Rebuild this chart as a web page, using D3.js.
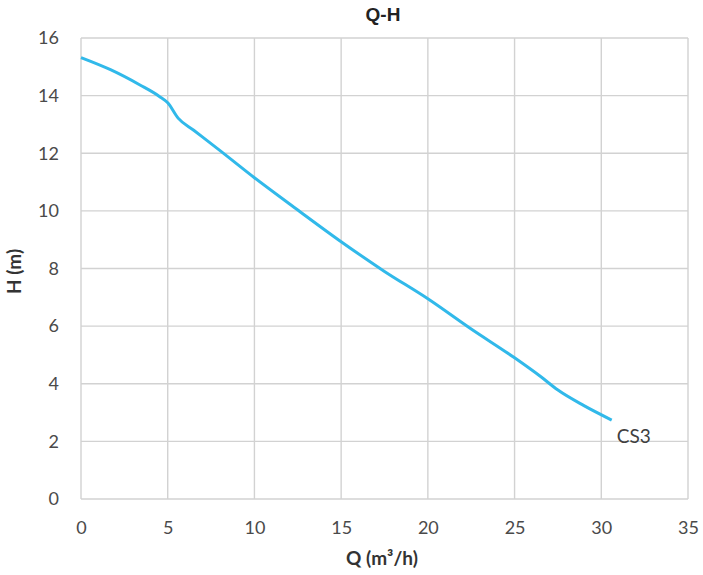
<!DOCTYPE html>
<html>
<head>
<meta charset="utf-8">
<script src="https://cdn.jsdelivr.net/npm/d3@7"></script>
<style>
  body { margin: 0; background: #fff; }
  .grid line { stroke: #d2d2d2; stroke-width: 1.4; }
  .label { font-family: Lato, "Open Sans", sans-serif; font-weight: bold; font-size: 19px; fill: #333; }
</style>
</head>
<body>
<div id="chart"></div>
<script>
// Q-H curve for CS3
var qValues = [0, 1.7, 3.4, 4.5, 5, 5.6, 6.5, 8, 10, 12.5, 15, 17.5, 20, 22.5, 25, 26.5, 27.5, 29, 30.6];
var hValues = [15.32, 14.9, 14.37, 13.98, 13.75, 13.22, 12.8, 12.1, 11.15, 10.03, 8.93, 7.9, 6.95, 5.9, 4.9, 4.25, 3.78, 3.24, 2.74];
var xTicks = [0, 5, 10, 15, 20, 25, 30, 35];
var yTicks = [0, 2, 4, 6, 8, 10, 12, 14, 16];
var seriesName = "CS3";

var W = 703, H = 575;
var margin = {top: 38, right: 15, bottom: 76, left: 81};
var width = W - margin.left - margin.right,
    height = H - margin.top - margin.bottom;

var svg = d3.select("#chart").append("svg")
  .attr("width", W)
  .attr("height", H);

var g = svg.append("g")
  .attr("transform", "translate(" + margin.left + "," + margin.top + ")");

var x = d3.scaleLinear().domain([0, 35]).range([0, width]);
var y = d3.scaleLinear().domain([0, 16]).range([height, 0]);

// gridlines
g.append("g").attr("class", "grid")
  .selectAll("line").data(xTicks).enter().append("line")
  .attr("x1", d => x(d)).attr("x2", d => x(d))
  .attr("y1", 0).attr("y2", height);
g.append("g").attr("class", "grid")
  .selectAll("line").data(yTicks).enter().append("line")
  .attr("y1", d => y(d)).attr("y2", d => y(d))
  .attr("x1", 0).attr("x2", width);

// axes, labels only
var xAxis = g.append("g")
  .attr("transform", "translate(0," + height + ")")
  .call(d3.axisBottom(x).tickValues(xTicks).tickSize(0).tickPadding(22));
var yAxis = g.append("g")
  .call(d3.axisLeft(y).tickValues(yTicks).tickSize(0).tickPadding(22));

[xAxis, yAxis].forEach(function(a){
  a.select(".domain").remove();
  a.attr("font-family", "Lato, 'Open Sans', sans-serif")
   .attr("font-size", 18);
  a.selectAll(".tick text").attr("fill", "#4a4a4a");
});

// curve
var pts = qValues.map((q, i) => [q, hValues[i]]);
var line = d3.line()
  .x(d => x(d[0]))
  .y(d => y(d[1]))
  .curve(d3.curveMonotoneX);

g.append("path")
  .datum(pts)
  .attr("fill", "none")
  .attr("stroke", "#31b9ea")
  .attr("stroke-width", 3)
  .attr("d", line);

var last = pts[pts.length - 1];
g.append("text")
  .attr("x", x(last[0]) + 5)
  .attr("y", y(last[1]) + 23)
  .style("font-family", "Lato, 'Open Sans', sans-serif")
  .style("font-size", "19px")
  .style("fill", "#404040")
  .text(seriesName);

// titles
svg.append("text")
  .attr("x", 383).attr("y", 21)
  .attr("text-anchor", "middle")
  .style("font-family", "'Liberation Sans', Arial, sans-serif")
  .style("font-weight", "bold")
  .style("font-size", "19px")
  .style("fill", "#222")
  .text("Q-H");

svg.append("text")
  .attr("class", "label")
  .attr("x", 382).attr("y", 565)
  .attr("text-anchor", "middle")
  .text("Q (m³/h)");

svg.append("text")
  .attr("class", "label")
  .attr("transform", "translate(21," + (margin.top + height / 2 + 3) + ") rotate(-90)")
  .attr("text-anchor", "middle")
  .text("H (m)");
</script>
</body>
</html>
